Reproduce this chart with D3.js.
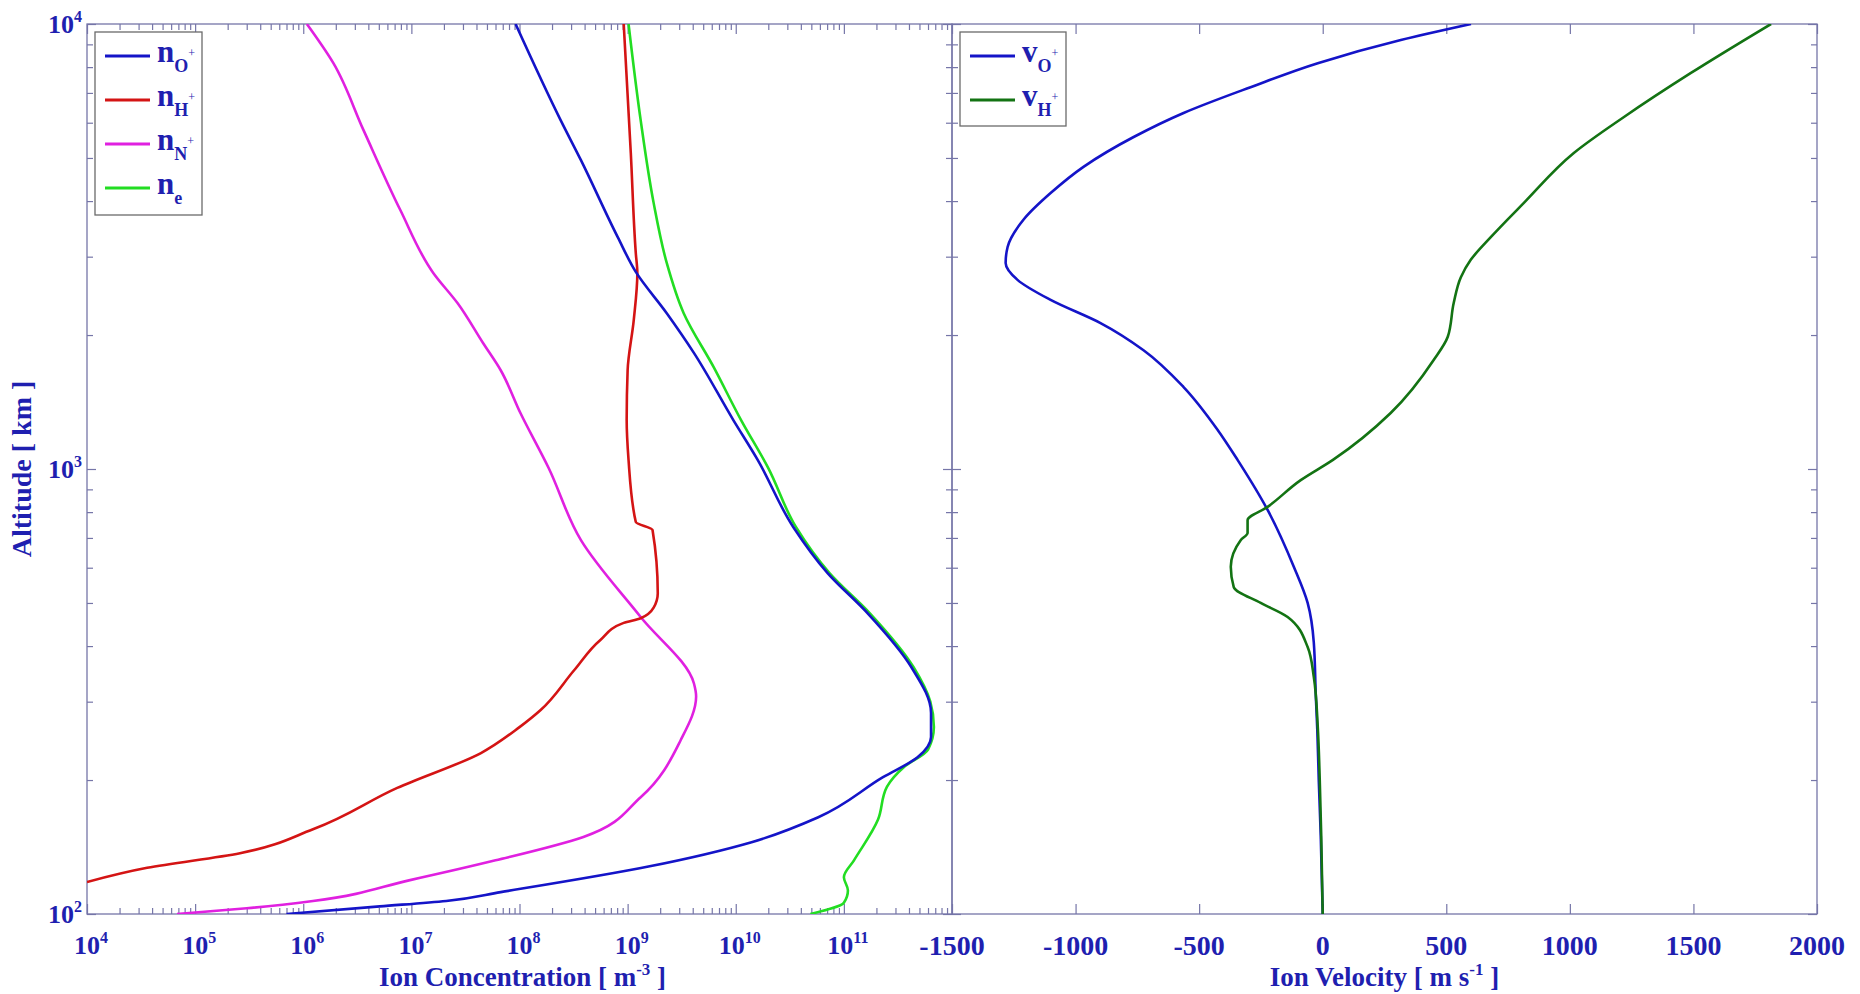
<!DOCTYPE html>
<html lang="en">
<head>
<meta charset="utf-8">
<title>Ion Concentration and Ion Velocity</title>
<style>
    body { margin: 0; background: #fff; }
    svg text {
        font-family: "Liberation Serif", "Times New Roman", serif;
        font-weight: bold;
        fill: #1f1fb0;
    }
    .frame { fill: none; stroke: #7676a8; stroke-width: 1.3; }
    .tick line { stroke: #7676a8; stroke-width: 1.2; }
    .domain { display: none; }
    .curve { fill: none; stroke-width: 2.6; stroke-linejoin: round; }
    .legend-box { fill: #fff; stroke: #6a6a6a; stroke-width: 1.3; }
</style>
</head>
<body>
<svg id="chart" width="1860" height="994"></svg>

<script src="https://d3js.org/d3.v7.min.js"></script>
<script>

// tick labels
var altTicks = [100, 1000, 10000];
var concTicks = [1e4, 1e5, 1e6, 1e7, 1e8, 1e9, 1e10, 1e11];
var velTicks = [-1500, -1000, -500, 0, 500, 1000, 1500, 2000];

// n_O+  (altitude km, concentration m^-3)
var nO_alt = [100, 104, 107, 112, 128, 145, 165, 203, 225, 250, 283, 359, 474, 583, 741, 1047, 1288, 1824, 2239, 2773, 3319, 4943, 6081, 10000];
var nO_val = [7e5, 5.1e6, 2.1e7, 6.7e7, 1.6e9, 1.4e10, 5.8e10, 2.3e11, 4.8e11, 6.4e11, 6.4e11, 4.2e11, 1.66e11, 7.1e10, 3.4e10, 1.6e10, 9.5e9, 4.1e9, 2.3e9, 1.19e9, 8.1e8, 3.7e8, 2.4e8, 9.2e7];

// n_H+
var nH_alt = [118, 127, 137, 155, 192, 230, 263, 287, 353, 413, 451, 462, 488, 526, 729, 760, 1047, 1288, 1667, 2163, 2754, 3055, 5129, 10000];
var nH_val = [1.0e4, 3.6e4, 2.6e5, 1.23e6, 7.4e6, 4.4e7, 1e8, 1.56e8, 3.2e8, 5.6e8, 9.2e8, 1.32e9, 1.74e9, 1.9e9, 1.7e9, 1.19e9, 1.02e9, 9.8e8, 1.0e9, 1.14e9, 1.23e9, 1.19e9, 1.07e9, 9.2e8];

// n_N+
var nN_alt = [100, 103, 107, 119, 132, 149, 183, 246, 308, 330, 465, 692, 1005, 1336, 1667, 1919, 2360, 2754, 3819, 5781, 8166, 10000];
var nN_val = [6.8e4, 3.0e5, 1.23e6, 9.5e6, 6.0e7, 3.9e8, 1.32e9, 3.1e9, 4.3e9, 4.1e9, 1.32e9, 3.7e8, 1.86e8, 1.02e8, 6.7e7, 4.6e7, 2.67e7, 1.6e7, 7.9e6, 3.6e6, 1.9e6, 1.08e6];

// n_e
var ne_alt = [100, 106, 113, 121, 132, 163, 193, 214, 234, 263, 300, 359, 474, 583, 741, 1005, 1288, 1694, 2239, 2904, 3963, 6081, 10000];
var ne_val = [4.9e10, 1.0e11, 1.09e11, 1.0e11, 1.24e11, 2.07e11, 2.5e11, 3.6e11, 6.0e11, 6.8e11, 6.3e11, 4.4e11, 1.74e11, 7.4e10, 3.6e10, 2.0e10, 1.12e10, 6.25e9, 3.3e9, 2.3e9, 1.74e9, 1.32e9, 1.02e9];

// v_O+  (m/s)
var vO_alt = [100, 150, 200, 260, 310, 407, 500, 603, 809, 1047, 1224, 1528, 1849, 2128, 2399, 2661, 2904, 3155, 3631, 4169, 4775, 5572, 6310, 7211, 8166, 9204, 10000];
var vO_val = [0, -8, -16, -22, -28, -36, -61, -117, -223, -344, -425, -563, -725, -899, -1101, -1235, -1283, -1275, -1211, -1101, -968, -765, -563, -292, -20, 316, 600];

// v_H+
var vH_alt = [100, 150, 200, 263, 341, 398, 465, 500, 543, 603, 692, 718, 767, 822, 944, 1047, 1336, 1758, 1982, 2360, 2698, 2951, 3319, 3963, 5129, 6180, 7762, 10000];
var vH_val = [0, -6, -12, -20, -36, -61, -142, -251, -360, -372, -332, -304, -304, -223, -89, 40, 275, 449, 506, 530, 559, 599, 680, 814, 1016, 1219, 1490, 1814];


var svg = d3.select("#chart");
var plotTop = 24, plotBottom = 914;
var left = {x0: 87, x1: 952}, right = {x0: 952, x1: 1817};

var yScale = d3.scaleLog().domain([100, 10000]).range([plotBottom, plotTop]);
var xConc = d3.scaleLog().domain([1e4, 1e12]).range([left.x0, left.x1]);
var xVel = d3.scaleLinear().domain([-1500, 2000]).range([right.x0, right.x1]);

function minorLog(lo, hi) {
    var t = [];
    for (var e = lo; e < hi; e++)
        for (var k = 2; k <= 9; k++) t.push(k * Math.pow(10, e));
    return t;
}
var altMinor = minorLog(2, 4);
var concMinor = minorLog(4, 12);

// clip paths
var defs = svg.append("defs");
defs.append("clipPath").attr("id", "clipL").append("rect")
        .attr("x", left.x0).attr("y", plotTop)
        .attr("width", left.x1 - left.x0).attr("height", plotBottom - plotTop);
defs.append("clipPath").attr("id", "clipR").append("rect")
        .attr("x", right.x0).attr("y", plotTop)
        .attr("width", right.x1 - right.x0).attr("height", plotBottom - plotTop);

// ----- ticks -----
function addAxis(axis, tx, ty) {
    svg.append("g").attr("transform", "translate(" + tx + "," + ty + ")").call(axis);
}

// left panel x (log)
addAxis(d3.axisBottom(xConc).tickValues(concMinor).tickSize(-6).tickFormat(""), 0, plotBottom);
addAxis(d3.axisBottom(xConc).tickValues(concTicks).tickSize(-10).tickFormat(""), 0, plotBottom);
addAxis(d3.axisTop(xConc).tickValues(concMinor).tickSize(-6).tickFormat(""), 0, plotTop);
addAxis(d3.axisTop(xConc).tickValues(concTicks).tickSize(-10).tickFormat(""), 0, plotTop);

// right panel x
addAxis(d3.axisBottom(xVel).tickValues(velTicks).tickSize(-10).tickFormat(""), 0, plotBottom);
addAxis(d3.axisTop(xVel).tickValues(velTicks).tickSize(-10).tickFormat(""), 0, plotTop);

// y ticks on every vertical edge
[[left.x0, "L"], [left.x1, "R"], [right.x0, "L"], [right.x1, "R"]].forEach(function(p) {
    var mk = p[1] == "L" ? d3.axisLeft : d3.axisRight;
    addAxis(mk(yScale).tickValues(altMinor).tickSize(-6).tickFormat(""), p[0], 0);
    addAxis(mk(yScale).tickValues(altTicks).tickSize(-9).tickFormat(""), p[0], 0);
});

// frames
svg.append("rect").attr("class", "frame")
        .attr("x", left.x0).attr("y", plotTop)
        .attr("width", left.x1 - left.x0).attr("height", plotBottom - plotTop);
svg.append("rect").attr("class", "frame")
        .attr("x", right.x0).attr("y", plotTop)
        .attr("width", right.x1 - right.x0).attr("height", plotBottom - plotTop);

// ----- tick labels -----
function powLabel(sel) {
    sel.each(function(d) {
        var t = d3.select(this);
        t.append("tspan").text("10");
        t.append("tspan").attr("dy", -11).style("font-size", "16px").text(Math.round(Math.log10(d)));
    });
}

svg.selectAll(".xlab-conc").data(concTicks).enter().append("text")
        .attr("class", "xlab-conc")
        .attr("x", function(d) { return xConc(d) + 4; })
        .attr("y", 954)
        .attr("text-anchor", "middle")
        .style("font-size", "26px")
        .call(powLabel);

svg.selectAll(".ylab").data(altTicks).enter().append("text")
        .attr("class", "ylab")
        .attr("x", left.x0 - 5)
        .attr("y", function(d) { return yScale(d) + 9; })
        .attr("text-anchor", "end")
        .style("font-size", "26px")
        .call(powLabel);

svg.selectAll(".xlab-vel").data(velTicks).enter().append("text")
        .attr("class", "xlab-vel")
        .attr("x", function(d) { return xVel(d); })
        .attr("y", 955)
        .attr("text-anchor", "middle")
        .style("font-size", "28px")
        .text(function(d) { return d; });

// axis titles
var t1 = svg.append("text")
        .attr("x", (left.x0 + left.x1) / 2 + 3).attr("y", 986)
        .attr("text-anchor", "middle").style("font-size", "27px");
t1.append("tspan").text("Ion Concentration  [ m");
t1.append("tspan").attr("dy", -11).style("font-size", "17px").text("-3");
t1.append("tspan").attr("dy", 11).text(" ]");

var t2 = svg.append("text")
        .attr("x", (right.x0 + right.x1) / 2).attr("y", 986)
        .attr("text-anchor", "middle").style("font-size", "27px");
t2.append("tspan").text("Ion Velocity  [ m s");
t2.append("tspan").attr("dy", -11).style("font-size", "17px").text("-1");
t2.append("tspan").attr("dy", 11).text(" ]");

svg.append("text")
        .attr("transform", "translate(31," + yScale(1000) + ") rotate(-90)")
        .attr("text-anchor", "middle").style("font-size", "28px")
        .text("Altitude  [ km ]");

// ----- curves -----
function makeSeries(alt, val) {
    return alt.map(function(a, i) { return {alt: a, v: val[i]}; });
}

var concLine = d3.line()
        .x(function(d) { return xConc(d.v); })
        .y(function(d) { return yScale(d.alt); })
        .curve(d3.curveMonotoneY);
var velLine = d3.line()
        .x(function(d) { return xVel(d.v); })
        .y(function(d) { return yScale(d.alt); })
        .curve(d3.curveMonotoneY);

var concSeries = [
    {alt: nN_alt, val: nN_val, color: "#e020e0"},
    {alt: nH_alt, val: nH_val, color: "#d41414"},
    {alt: ne_alt, val: ne_val, color: "#22dd22"},
    {alt: nO_alt, val: nO_val, color: "#1414c8"}
];
var gL = svg.append("g").attr("clip-path", "url(#clipL)");
concSeries.forEach(function(s) {
    gL.append("path").datum(makeSeries(s.alt, s.val))
            .attr("class", "curve").attr("stroke", s.color).attr("d", concLine);
});

var velSeries = [
    {alt: vO_alt, val: vO_val, color: "#1414c8"},
    {alt: vH_alt, val: vH_val, color: "#137313"}
];
var gR = svg.append("g").attr("clip-path", "url(#clipR)");
velSeries.forEach(function(s) {
    gR.append("path").datum(makeSeries(s.alt, s.val))
            .attr("class", "curve").attr("stroke", s.color).attr("d", velLine);
});

// ----- legends -----
function legend(x, y, w, h, items, letter) {
    var g = svg.append("g");
    g.append("rect").attr("class", "legend-box")
            .attr("x", x).attr("y", y).attr("width", w).attr("height", h);
    items.forEach(function(it, i) {
        var ly = y + 24 + i * 44;
        g.append("line").attr("x1", x + 10).attr("x2", x + 55)
                .attr("y1", ly).attr("y2", ly)
                .attr("stroke", it.color).attr("stroke-width", 3);
        var t = g.append("text").attr("x", x + 62).attr("y", ly + 6).style("font-size", "31px");
        t.append("tspan").text(letter);
        t.append("tspan").attr("dy", 10).style("font-size", "18px").text(it.sub);
        if (it.sup) t.append("tspan").attr("dy", -15).style("font-size", "12px").style("font-weight", "normal").text(it.sup);
    });
}

legend(95, 32, 107, 183, [
    {color: "#1414c8", sub: "O", sup: "+"},
    {color: "#d41414", sub: "H", sup: "+"},
    {color: "#e020e0", sub: "N", sup: "+"},
    {color: "#22dd22", sub: "e", sup: ""}
], "n");

legend(960, 32, 106, 94, [
    {color: "#1414c8", sub: "O", sup: "+"},
    {color: "#137313", sub: "H", sup: "+"}
], "v");

</script>
</body>
</html>
